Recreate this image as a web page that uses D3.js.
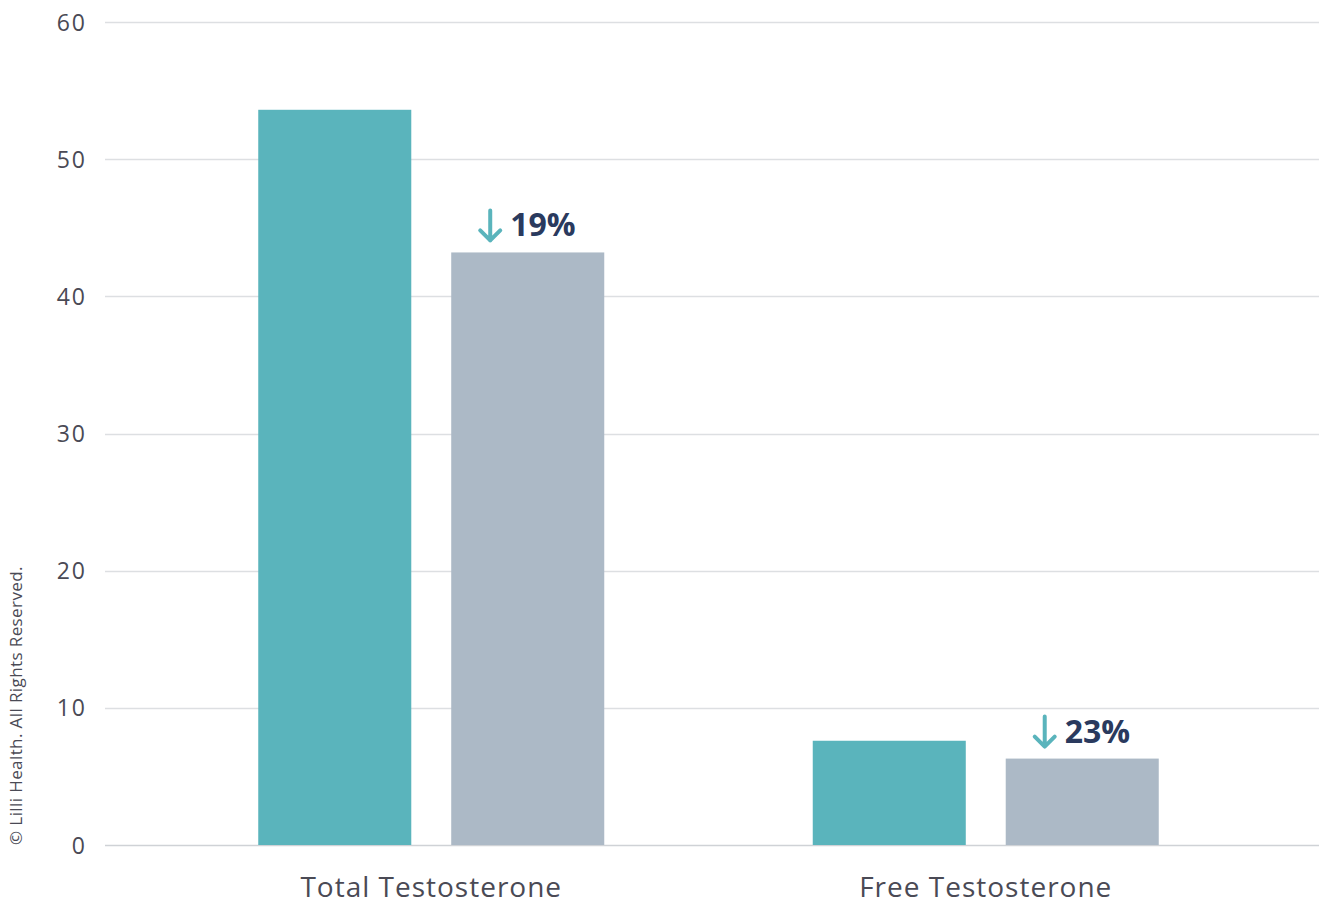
<!DOCTYPE html>
<html>
<head>
<meta charset="utf-8">
<script src="https://cdn.jsdelivr.net/npm/d3@7"></script>
<style>
  html, body { margin: 0; padding: 0; background: #fff; }
  svg { display: block; }
  text { font-family: "Open Sans", Lato, sans-serif; }
</style>
</head>
<body>
<svg id="chart" width="1319" height="905"></svg>
<script>
// Testosterone levels, baseline vs. after
const categories = ["Total Testosterone", "Free Testosterone"];
const seriesNames = ["Before", "After"];
const beforeValues = [53.6, 7.6];
const afterValues = [43.2, 6.3];
const changeLabels = ["19%", "23%"];
const yTicks = [0, 10, 20, 30, 40, 50, 60];

const colors = ["#5ab4bc", "#acb9c6"];

const svg = d3.select("#chart");
const W = 1319, H = 905;

const y = d3.scaleLinear().domain([0, 60]).range([845, 22]);

const x0 = d3.scaleBand()
  .domain(categories)
  .range([154, 1263])
  .paddingInner(0.376)
  .paddingOuter(0.188);

const x1 = d3.scaleBand()
  .domain(seriesNames)
  .range([0, x0.bandwidth()])
  .paddingInner(0.207);

// Gridlines + tick labels
const yAxis = d3.axisLeft(y).tickValues(yTicks).tickSize(0).tickPadding(0);
const gAxis = svg.append("g").attr("transform", "translate(87,0)").call(yAxis);
gAxis.select(".domain").remove();
gAxis.selectAll("text")
  .attr("font-family", "'Open Sans', sans-serif")
  .attr("font-size", 23)
  .attr("letter-spacing", 2)
  .attr("fill", "#4a4a55")
  .attr("dy", "0.35em");

svg.append("g")
  .selectAll("line")
  .data(yTicks)
  .join("line")
  .attr("x1", 105)
  .attr("x2", W)
  .attr("y1", d => Math.round(y(d)) + 0.5)
  .attr("y2", d => Math.round(y(d)) + 0.5)
  .attr("stroke", d => d === 0 ? "#cfd2d6" : "#dddfe2")
  .attr("stroke-width", 1.5);

// Bars
const rows = categories.map((c, i) => ({
  category: c,
  values: [beforeValues[i], afterValues[i]],
  change: changeLabels[i]
}));

const groups = svg.append("g")
  .selectAll("g")
  .data(rows)
  .join("g")
  .attr("transform", d => `translate(${x0(d.category)},0)`);

groups.selectAll("rect")
  .data(d => d.values.map((v, j) => ({ key: seriesNames[j], value: v })))
  .join("rect")
  .attr("x", d => x1(d.key))
  .attr("width", x1.bandwidth())
  .attr("y", d => y(d.value))
  .attr("height", d => y(0) - y(d.value))
  .attr("fill", (d, j) => colors[j]);

// Change annotations above the second bar
const ann = groups.append("g")
  .attr("transform", d => `translate(${x1("After") + 39},${y(d.values[1]) - 10})`);

ann.append("path")
  .attr("d", "M0,-32 L0,-2 M-10,-12 L0,-2 L10,-12")
  .attr("fill", "none")
  .attr("stroke", "#5ab4bc")
  .attr("stroke-width", 4)
  .attr("stroke-linecap", "round")
  .attr("stroke-linejoin", "round");

ann.append("text")
  .attr("x", 20)
  .attr("y", -6)
  .attr("font-size", 32)
  .attr("font-weight", 700)
  .attr("fill", "#2a3a5e")
  .text(d => d.change);

// Category labels
svg.append("g")
  .selectAll("text")
  .data(categories)
  .join("text")
  .attr("x", d => x0(d) + x0.bandwidth() / 2)
  .attr("y", 897)
  .attr("text-anchor", "middle")
  .attr("font-size", 28)
  .attr("letter-spacing", 1)
  .attr("fill", "#4a4a55")
  .text(d => d);

// Copyright, rotated along the left edge
svg.append("text")
  .attr("transform", "translate(22,845) rotate(-90)")
  .attr("font-size", 17)
  .attr("letter-spacing", 0.4)
  .attr("fill", "#4a4a55")
  .text("© Lilli Health. All Rights Reserved.");
</script>
</body>
</html>
